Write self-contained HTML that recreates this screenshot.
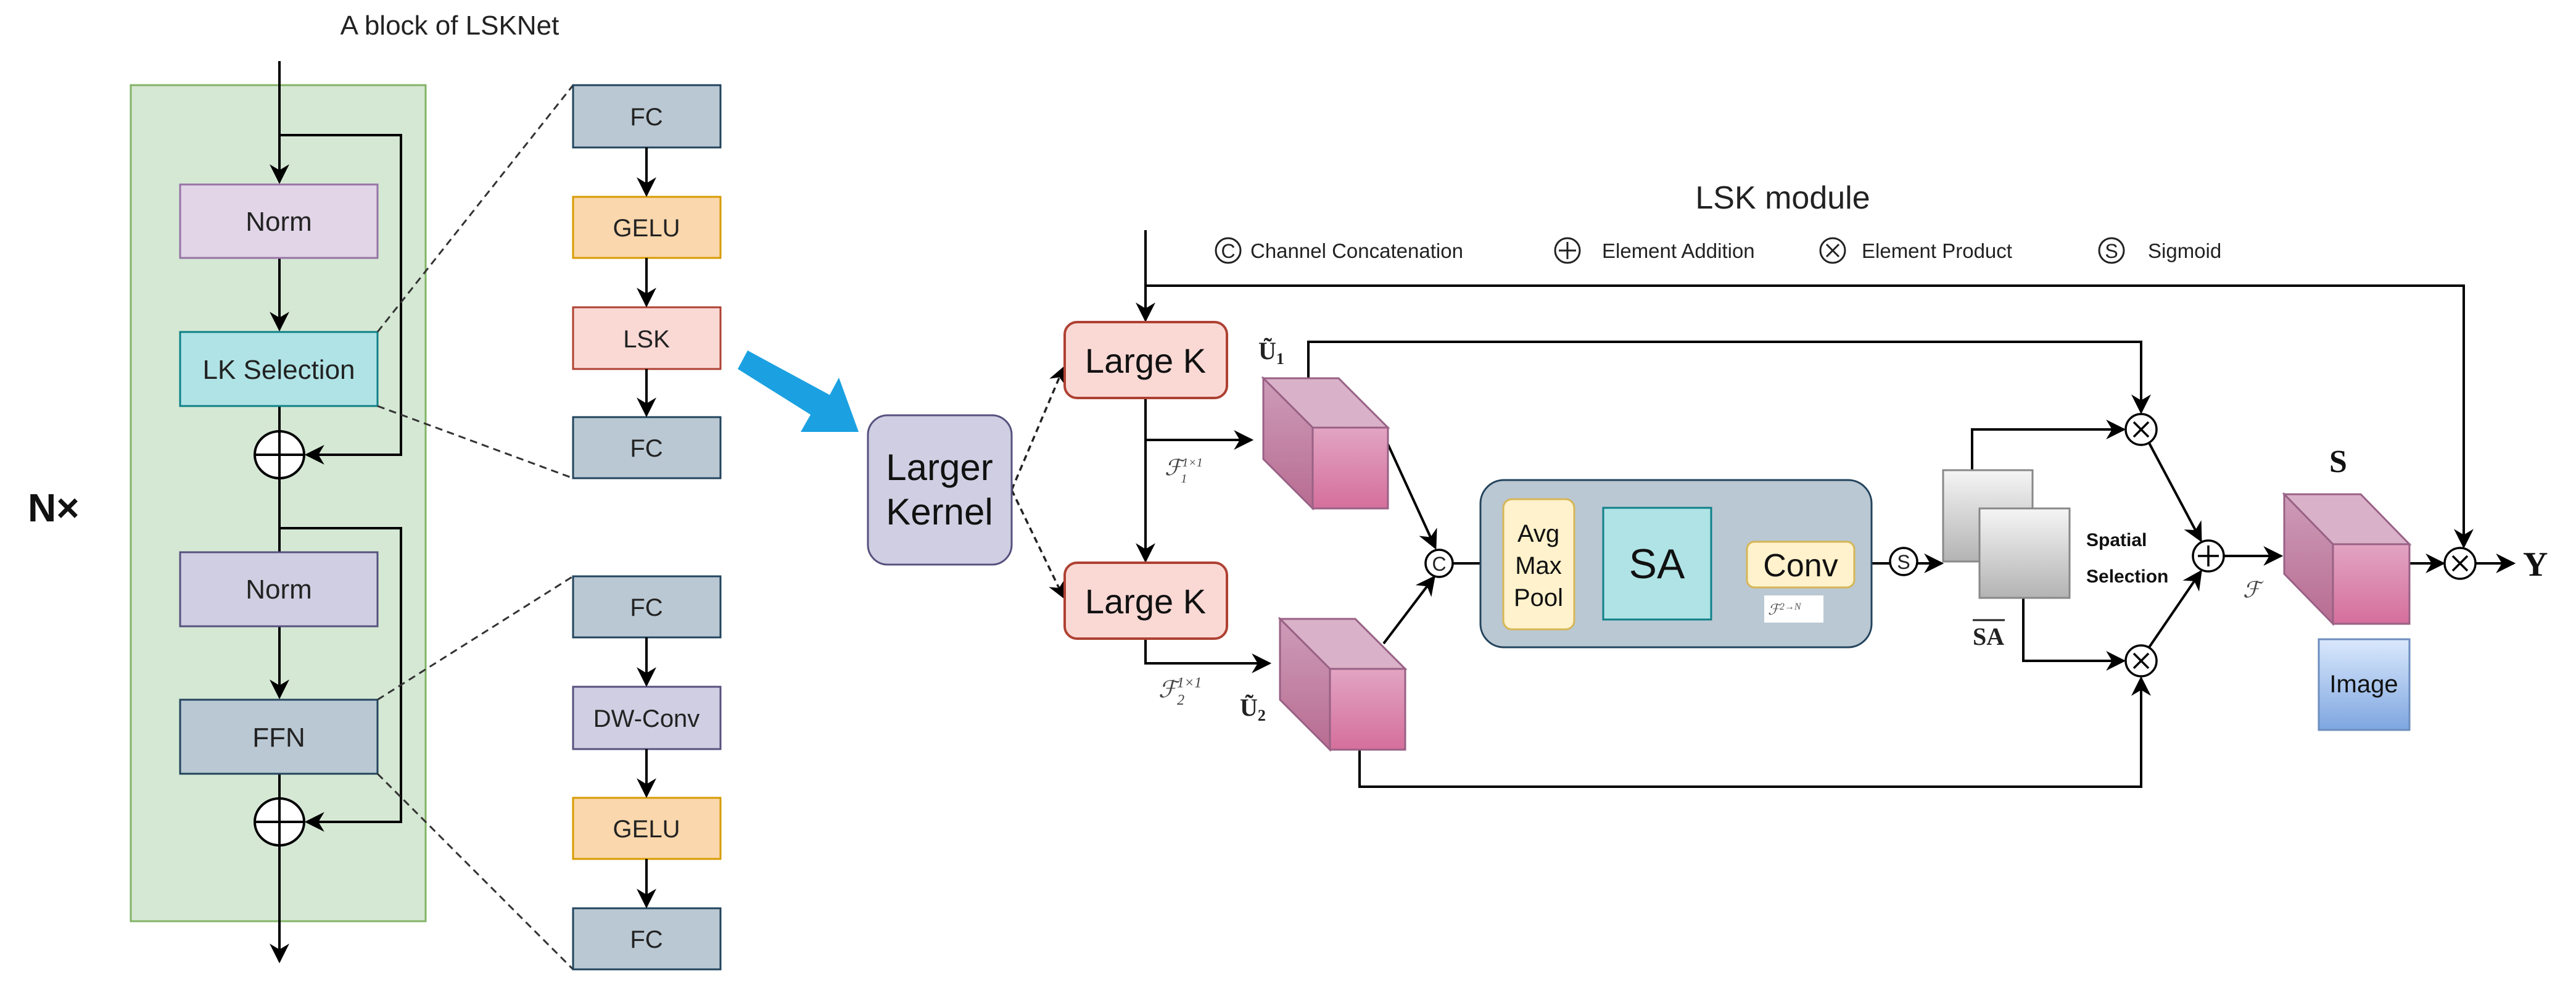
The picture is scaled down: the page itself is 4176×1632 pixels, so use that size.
<!DOCTYPE html>
<html><head><meta charset="utf-8"><style>
html,body{margin:0;padding:0;background:#fff;}
svg{display:block;}
text{font-family:"Liberation Sans",sans-serif;}
.s{font-family:"Liberation Serif",serif;}
</style></head><body>
<svg width="4176" height="1632" viewBox="0 0 4176 1632" xmlns="http://www.w3.org/2000/svg">
<defs>
<marker id="a" viewBox="0 0 10 10" refX="9" refY="5" markerWidth="8" markerHeight="8" markerUnits="strokeWidth" orient="auto"><path d="M0,0 L10,5 L0,10 L3,5 z" fill="#000"/></marker>
<linearGradient id="pf" x1="0" y1="0" x2="0" y2="1"><stop offset="0" stop-color="#e2a4c2"/><stop offset="1" stop-color="#d56f9c"/></linearGradient>
<linearGradient id="pl" x1="0" y1="0" x2="0" y2="1"><stop offset="0" stop-color="#cd9cb8"/><stop offset="1" stop-color="#b86c92"/></linearGradient>
<linearGradient id="gs" x1="0" y1="0" x2="0" y2="1"><stop offset="0" stop-color="#f5f5f5"/><stop offset="1" stop-color="#b3b3b3"/></linearGradient>
<linearGradient id="bl" x1="0" y1="0" x2="0" y2="1"><stop offset="0" stop-color="#dae8fc"/><stop offset="1" stop-color="#7ea6e0"/></linearGradient>
</defs>
<g stroke-width="4" fill="none" stroke="#000">
<!-- left block -->
<rect x="212" y="138" width="478" height="1355" fill="#d5e8d4" stroke="#82b366" stroke-width="3"/>
</g>
<text x="729" y="56" font-size="44" text-anchor="middle" fill="#222">A block of LSKNet</text>
<text x="45" y="845" font-size="64" font-weight="bold" fill="#111">N×</text>
<g stroke="#000" stroke-width="4" fill="none">
<line x1="453" y1="99" x2="453" y2="295" marker-end="url(#a)"/>
<polyline points="453,219 650,219 650,737 497,737" marker-end="url(#a)"/>
<line x1="453" y1="418" x2="453" y2="534" marker-end="url(#a)"/>
<line x1="453" y1="658" x2="453" y2="698"/>
<line x1="453" y1="776" x2="453" y2="895"/>
<polyline points="453,856 650,856 650,1332 497,1332" marker-end="url(#a)"/>
<line x1="453" y1="1015" x2="453" y2="1130" marker-end="url(#a)"/>
<line x1="453" y1="1254" x2="453" y2="1293"/>
<line x1="453" y1="1371" x2="453" y2="1558" marker-end="url(#a)"/>
<ellipse cx="453" cy="737" rx="40" ry="38" fill="#fff"/>
<line x1="413" y1="737" x2="493" y2="737"/><line x1="453" y1="699" x2="453" y2="775"/>
<ellipse cx="453" cy="1332" rx="40" ry="38" fill="#fff"/>
<line x1="413" y1="1332" x2="493" y2="1332"/><line x1="453" y1="1294" x2="453" y2="1370"/>
</g>
<g stroke-width="3">
<rect x="292" y="299" width="320" height="119" fill="#e1d5e7" stroke="#9673a6"/>
<rect x="292" y="538" width="320" height="120" fill="#b0e3e6" stroke="#0e8088"/>
<rect x="292" y="895" width="320" height="120" fill="#d0cee2" stroke="#56517e"/>
<rect x="292" y="1134" width="320" height="120" fill="#bac8d3" stroke="#23445d"/>
</g>
<g font-size="44" text-anchor="middle" fill="#222">
<text x="452" y="374">Norm</text>
<text x="452" y="614">LK Selection</text>
<text x="452" y="970">Norm</text>
<text x="452" y="1210">FFN</text>
</g>
<!-- dashed -->
<g stroke="#333" stroke-width="3" stroke-dasharray="12,8" fill="none">
<line x1="612" y1="538" x2="929" y2="138"/>
<line x1="612" y1="658" x2="929" y2="775"/>
<line x1="612" y1="1134" x2="929" y2="934"/>
<line x1="612" y1="1254" x2="929" y2="1571"/>
</g>
<!-- right column -->
<g stroke-width="3">
<rect x="929" y="138" width="239" height="101" fill="#bac8d3" stroke="#23445d"/>
<rect x="929" y="319" width="239" height="99" fill="#fad7ac" stroke="#d79b00"/>
<rect x="929" y="498" width="239" height="100" fill="#fad9d5" stroke="#ae4132"/>
<rect x="929" y="676" width="239" height="99" fill="#bac8d3" stroke="#23445d"/>
<rect x="929" y="934" width="239" height="99" fill="#bac8d3" stroke="#23445d"/>
<rect x="929" y="1113" width="239" height="101" fill="#d0cee2" stroke="#56517e"/>
<rect x="929" y="1293" width="239" height="99" fill="#fad7ac" stroke="#d79b00"/>
<rect x="929" y="1472" width="239" height="99" fill="#bac8d3" stroke="#23445d"/>
</g>
<g stroke="#000" stroke-width="4" marker-end="url(#a)">
<line x1="1048" y1="239" x2="1048" y2="316"/>
<line x1="1048" y1="418" x2="1048" y2="495"/>
<line x1="1048" y1="598" x2="1048" y2="673"/>
<line x1="1048" y1="1033" x2="1048" y2="1110"/>
<line x1="1048" y1="1214" x2="1048" y2="1290"/>
<line x1="1048" y1="1392" x2="1048" y2="1469"/>
</g>
<g font-size="40" text-anchor="middle" fill="#222">
<text x="1048" y="203">FC</text><text x="1048" y="383">GELU</text><text x="1048" y="563">LSK</text><text x="1048" y="740">FC</text>
<text x="1048" y="998">FC</text><text x="1048" y="1178">DW-Conv</text><text x="1048" y="1357">GELU</text><text x="1048" y="1536">FC</text>
</g>
<!-- blue arrow -->
<polygon points="1196,598 1212,568 1345,640 1360,612 1392,700 1298,700 1314,672" fill="#1ba1e2"/>
<!-- LSK module -->
<text x="2890" y="338" font-size="52" text-anchor="middle" fill="#222">LSK module</text>
<g font-size="33" fill="#222">
<text x="2027" y="418">Channel Concatenation</text>
<text x="2597" y="418">Element Addition</text>
<text x="3018" y="418">Element Product</text>
<text x="3482" y="418">Sigmoid</text>
</g>
<g stroke="#222" stroke-width="3" fill="none">
<circle cx="1991" cy="406" r="20"/><circle cx="2541" cy="406" r="20"/>
<line x1="2527" y1="406" x2="2555" y2="406"/><line x1="2541" y1="392" x2="2541" y2="420"/>
<circle cx="2971" cy="406" r="20"/><line x1="2961" y1="396" x2="2981" y2="416"/><line x1="2981" y1="396" x2="2961" y2="416"/>
<circle cx="3423" cy="406" r="20"/>
</g>
<text x="1991" y="418" font-size="32" text-anchor="middle" fill="#222">C</text>
<text x="3423" y="418" font-size="32" text-anchor="middle" fill="#222">S</text>
<!-- connectors -->
<g stroke="#000" stroke-width="4" fill="none">
<line x1="1857" y1="373" x2="1857" y2="519" marker-end="url(#a)"/>
<polyline points="1857,463 3994,463 3994,886" marker-end="url(#a)"/>
<line x1="1857" y1="645" x2="1857" y2="909" marker-end="url(#a)"/>
<line x1="1857" y1="713" x2="2029" y2="713" marker-end="url(#a)"/>
<polyline points="1857,1035 1857,1075 2058,1075" marker-end="url(#a)"/>
<polyline points="2121,613 2121,554 3471,554 3471,668" marker-end="url(#a)"/>
<line x1="2250" y1="720" x2="2327" y2="888" marker-end="url(#a)"/>
<line x1="2243" y1="1043" x2="2325" y2="935" marker-end="url(#a)"/>
<polyline points="2204,1215 2204,1275 3471,1275 3471,1099" marker-end="url(#a)"/>
<line x1="2356" y1="913" x2="2434" y2="913" marker-end="url(#a)"/>
<line x1="2552" y1="913" x2="2596" y2="913" marker-end="url(#a)"/>
<line x1="2774" y1="913" x2="2829" y2="913" marker-end="url(#a)"/>
<line x1="3006" y1="913" x2="3064" y2="913"/>
<line x1="3108" y1="913" x2="3148" y2="913" marker-end="url(#a)"/>
<polyline points="3197,762 3197,696 3443,696" marker-end="url(#a)"/>
<polyline points="3280,969 3280,1071 3443,1071" marker-end="url(#a)"/>
<line x1="3484" y1="718" x2="3568" y2="876" marker-end="url(#a)"/>
<line x1="3484" y1="1049" x2="3568" y2="926" marker-end="url(#a)"/>
<line x1="3605" y1="901" x2="3698" y2="901" marker-end="url(#a)"/>
<line x1="3906" y1="913" x2="3961" y2="913" marker-end="url(#a)"/>
<line x1="4014" y1="913" x2="4075" y2="913" marker-end="url(#a)"/>
</g>
<!-- dashed arrows from Larger Kernel -->
<g stroke="#222" stroke-width="3.5" stroke-dasharray="10,7" fill="none" marker-end="url(#a)">
<line x1="1640" y1="794" x2="1724" y2="596"/>
<line x1="1640" y1="794" x2="1724" y2="968"/>
</g>
<rect x="1407" y="673" width="233" height="242" rx="32" fill="#d0cee2" stroke="#56517e" stroke-width="3"/>
<text x="1523" y="778" font-size="60" text-anchor="middle" fill="#111">Larger</text>
<text x="1523" y="850" font-size="60" text-anchor="middle" fill="#111">Kernel</text>
<rect x="1726" y="522" width="263" height="123" rx="20" fill="#fad9d5" stroke="#ae4132" stroke-width="4"/>
<rect x="1726" y="912" width="263" height="123" rx="20" fill="#fad9d5" stroke="#ae4132" stroke-width="4"/>
<text x="1857" y="604" font-size="56" text-anchor="middle" fill="#111">Large K</text>
<text x="1857" y="994" font-size="56" text-anchor="middle" fill="#111">Large K</text>
<!-- cubes -->
<g stroke="#996185" stroke-width="3">
<polygon points="2048,613 2170,613 2250,693 2128,693" fill="#d9b1c8"/>
<polygon points="2048,613 2128,693 2128,824 2048,744" fill="url(#pl)"/>
<rect x="2128" y="693" width="122" height="131" fill="url(#pf)"/>
<polygon points="2075,1003 2197,1003 2278,1084 2156,1084" fill="#d9b1c8"/>
<polygon points="2075,1003 2156,1084 2156,1215 2075,1134" fill="url(#pl)"/>
<rect x="2156" y="1084" width="122" height="131" fill="url(#pf)"/>
<polygon points="3703,801 3827,801 3906,882 3782,882" fill="#d9b1c8"/>
<polygon points="3703,801 3782,882 3782,1011 3703,930" fill="url(#pl)"/>
<rect x="3782" y="882" width="124" height="129" fill="url(#pf)"/>
</g>
<text x="2040" y="582" font-size="40" class="s" font-weight="bold" fill="#222">Ũ<tspan font-size="26" dy="8">1</tspan></text>
<text x="2010" y="1160" font-size="40" class="s" font-weight="bold" fill="#222">Ũ<tspan font-size="26" dy="8">2</tspan></text>
<text x="1888" y="770" font-size="36" class="s" font-style="italic" fill="#444">ℱ<tspan font-size="20" dy="-14">1×1</tspan><tspan font-size="20" dx="-34" dy="26">1</tspan></text>
<text x="1878" y="1130" font-size="38" class="s" font-style="italic" fill="#444">ℱ<tspan font-size="24" dy="-16">1×1</tspan><tspan font-size="24" dx="-40" dy="28">2</tspan></text>
<!-- container -->
<rect x="2400" y="778" width="634" height="271" rx="38" fill="#bac8d3" stroke="#23445d" stroke-width="3"/>
<rect x="2437" y="809" width="115" height="211" rx="14" fill="#fff2cc" stroke="#d6b656" stroke-width="3"/>
<text x="2494" y="878" font-size="40" text-anchor="middle" fill="#111">Avg</text>
<text x="2494" y="930" font-size="40" text-anchor="middle" fill="#111">Max</text>
<text x="2494" y="982" font-size="40" text-anchor="middle" fill="#111">Pool</text>
<rect x="2599" y="823" width="175" height="181" fill="#b0e3e6" stroke="#0e8088" stroke-width="3"/>
<text x="2686" y="937" font-size="68" text-anchor="middle" fill="#111">SA</text>
<rect x="2832" y="878" width="174" height="74" rx="12" fill="#fff2cc" stroke="#d6b656" stroke-width="3"/>
<text x="2919" y="934" font-size="52" text-anchor="middle" fill="#111">Conv</text>
<rect x="2860" y="965" width="96" height="44" fill="#fff"/>
<text x="2866" y="996" font-size="24" class="s" font-style="italic" fill="#555">ℱ<tspan font-size="16" dy="-8">2→N</tspan></text>
<!-- circles -->
<g stroke="#000" stroke-width="3.5" fill="#fff">
<circle cx="2333" cy="913" r="22"/>
<circle cx="3086" cy="910" r="22"/>
<circle cx="3471" cy="696" r="25"/><circle cx="3471" cy="1071" r="25"/>
<circle cx="3580" cy="901" r="25"/><circle cx="3988" cy="913" r="25"/>
</g>
<text x="2333" y="925" font-size="32" text-anchor="middle" fill="#222">C</text>
<text x="3086" y="922" font-size="32" text-anchor="middle" fill="#222">S</text>
<g stroke="#000" stroke-width="3.5">
<line x1="3459" y1="684" x2="3483" y2="708"/><line x1="3483" y1="684" x2="3459" y2="708"/>
<line x1="3459" y1="1059" x2="3483" y2="1083"/><line x1="3483" y1="1059" x2="3459" y2="1083"/>
<line x1="3976" y1="901" x2="4000" y2="925"/><line x1="4000" y1="901" x2="3976" y2="925"/>
<line x1="3563" y1="901" x2="3597" y2="901"/><line x1="3580" y1="884" x2="3580" y2="918"/>
</g>
<!-- gray squares -->
<rect x="3150" y="762" width="145" height="148" fill="url(#gs)" stroke="#888" stroke-width="3"/>
<rect x="3209" y="824" width="146" height="145" fill="url(#gs)" stroke="#888" stroke-width="3"/>
<text x="3382" y="885" font-size="30" font-weight="bold" fill="#111">Spatial</text>
<text x="3382" y="944" font-size="30" font-weight="bold" fill="#111">Selection</text>
<text x="3198" y="1045" font-size="40" class="s" font-weight="bold" fill="#222">SA</text>
<line x1="3198" y1="1005" x2="3250" y2="1005" stroke="#222" stroke-width="3"/>
<text x="3636" y="968" font-size="36" class="s" font-style="italic" fill="#444">ℱ</text>
<text x="3776" y="765" font-size="52" class="s" font-weight="bold" fill="#111">S</text>
<rect x="3759" y="1036" width="147" height="147" fill="url(#bl)" stroke="#6c8ebf" stroke-width="3"/>
<text x="3832" y="1122" font-size="40" text-anchor="middle" fill="#111">Image</text>
<text x="4090" y="933" font-size="56" class="s" font-weight="bold" fill="#111">Y</text>
</svg>
</body></html>
